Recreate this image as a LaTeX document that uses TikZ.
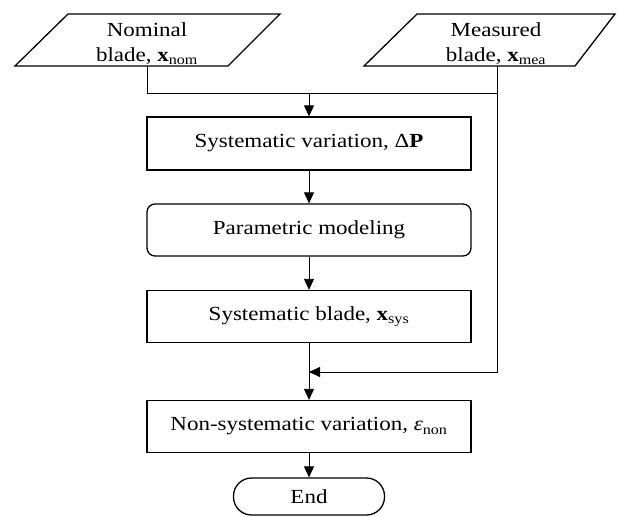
\documentclass[tikz,border=0pt]{standalone}
\usepackage{fontspec}
\setmainfont{Liberation Serif}[FakeStretch=1.15]
\usetikzlibrary{arrows.meta}
\begin{document}
\begin{tikzpicture}[x=1pt,y=-1pt,
  every node/.style={font=\fontsize{20}{25}\selectfont},
  procbox/.style={draw, line width=1.3pt, minimum width=324pt, minimum height=52pt, inner sep=0pt},
  roundbox/.style={procbox, rounded corners=8pt},
  termbox/.style={draw, line width=1.3pt, minimum width=151pt, minimum height=37pt, inner sep=0pt, rounded corners=18pt},
  iotext/.style={align=center, inner sep=0pt},
  ioshape/.style={draw, line width=1.3pt, line join=miter},
  conn/.style={draw, line width=0.8pt},
  arr/.style={conn, -{Triangle[length=11pt,width=10pt]}}]
\useasboundingbox (0,0) rectangle (617,516);
% input shapes
\draw[ioshape] (15,66) -- (228,66) -- (280,14) -- (68,14) -- cycle;
\draw[ioshape] (364,66) -- (575,66) -- (615,14) -- (417,14) -- cycle;
\node[iotext] (nom) at (147,44) {Nominal\\blade, \textbf{x}\textsubscript{nom}};
\node[iotext] (mea) at (496,44) {Measured\\blade, \textbf{x}\textsubscript{mea}};
% process boxes
\node[procbox, minimum height=53pt] (b1) at (309,143.5) {Systematic variation, Δ\textbf{P}};
\node[roundbox] (b2) at (309,230) {Parametric modeling};
\node[procbox] (b3) at (309,316.5) {Systematic blade, \textbf{x}\textsubscript{sys}};
\node[procbox] (b4) at (309,426.5) {Non-systematic variation, \textit{ε}\textsubscript{non}};
\node[termbox] (e) at (309,496.5) {End};
% connectors
\coordinate (nomb) at (147,66);
\coordinate (meab) at (497,66);
\coordinate (j) at (309,93);
\coordinate (k) at (309,372);
\draw[conn] (nomb) |- (meab |- j);
\draw[arr] (j) -- (b1);
\draw[arr] (b1) -- (b2);
\draw[arr] (b2) -- (b3);
\draw[arr] (meab) |- (k);
\draw[arr] (b3) -- (b4);
\draw[arr] (b4) -- (e);
\end{tikzpicture}
\end{document}
